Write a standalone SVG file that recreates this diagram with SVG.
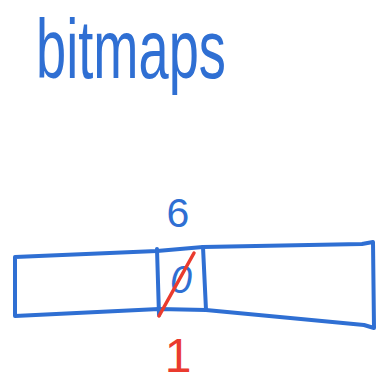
<svg xmlns="http://www.w3.org/2000/svg" width="377" height="383" viewBox="0 0 377 383">
<style>
.b{fill:none;stroke:#2f6fd3;stroke-width:4;stroke-linecap:round;stroke-linejoin:round}
.r{fill:none;stroke:#ea3b2e;stroke-width:3.5;stroke-linecap:round}
.t{font-family:"Liberation Sans",Arial,sans-serif;fill:#2f6fd3}
</style>
<rect width="377" height="383" fill="#ffffff"/>
<g id="title">
<text class="t" x="36" y="78" font-size="84" textLength="190" lengthAdjust="spacingAndGlyphs">bitmaps</text>
</g>
<g id="strip">
<path class="b" d="M15,257 L157,251 L203,247 L362,244 L373,242 L374,328 L364,325 L206,310 L159,309 L15,316 Z"/>
</g>
<g id="cell">
<path class="b" d="M157,249 L159,315 M203,247 L206,310"/>
<text class="t" x="178" y="227" font-size="41" text-anchor="middle">6</text>
<text class="t" x="181" y="293" font-size="39" text-anchor="middle" font-style="italic">0</text>
<line class="r" x1="159" y1="316" x2="194" y2="253"/>
<text x="178" y="372" font-size="48" text-anchor="middle" font-family="Liberation Sans, Arial, sans-serif" fill="#ea3b2e">1</text>
</g>
<g id="connectors"/>
</svg>
